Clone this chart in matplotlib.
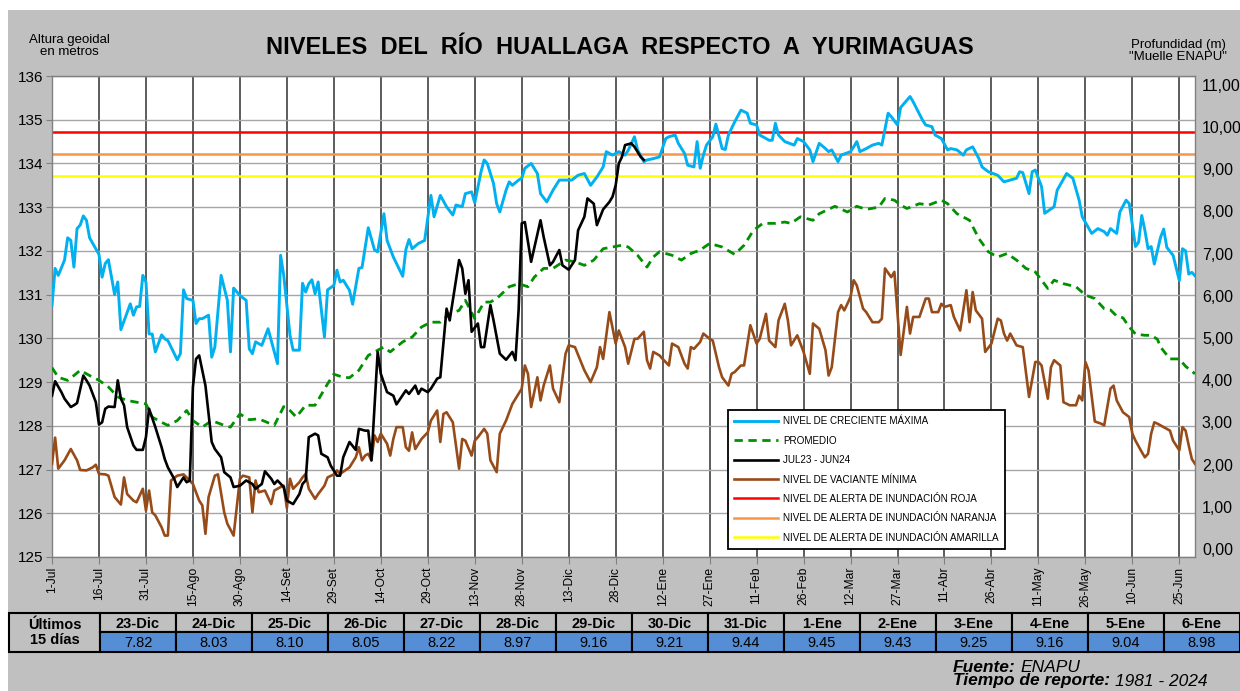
import matplotlib
matplotlib.use("Agg")
import matplotlib.pyplot as plt
from matplotlib.patches import Rectangle

plt.rcParams["font.family"] = ["Liberation Sans", "DejaVu Sans"]

# dia 0 = 1-Jul, 365 = 30-Jun (año bisiesto)
tick_labels = ["1-Jul", "16-Jul", "31-Jul", "15-Ago", "30-Ago", "14-Set", "29-Set",
               "14-Oct", "29-Oct", "13-Nov", "28-Nov", "13-Dic", "28-Dic", "12-Ene",
               "27-Ene", "11-Feb", "26-Feb", "12-Mar", "27-Mar", "11-Abr", "26-Abr",
               "11-May", "26-May", "10-Jun", "25-Jun"]

dias_max = [0, 1, 2, 4, 5, 6, 7, 8, 9, 10, 11, 12, 14, 15, 16, 17, 18, 20, 21, 22, 25, 26,
            27, 28, 29, 30, 31, 32, 33, 35, 36, 37, 40, 41, 42, 43, 45, 46, 47, 48, 50, 51,
            52, 54, 56, 57, 58, 60, 62, 63, 64, 65, 67, 69, 72, 73, 74, 76, 77, 79, 80, 81,
            82, 83, 84, 85, 87, 88, 90, 91, 92, 93, 95, 96, 98, 99, 101, 103, 104, 106,
            107, 109, 112, 113, 114, 115, 117, 119, 121, 122, 124, 126, 128, 129, 131, 132,
            134, 135, 137, 138, 139, 141, 142, 143, 145, 146, 147, 149, 150, 151, 153, 155,
            156, 158, 160, 162, 164, 166, 168, 170, 172, 174, 176, 177, 179, 181, 183, 184,
            186, 187, 189, 190, 192, 194, 196, 197, 199, 200, 202, 203, 205, 206, 207, 208,
            209, 211, 212, 214, 215, 216, 218, 220, 222, 223, 225, 226, 229, 230, 231, 232,
            234, 237, 238, 240, 242, 243, 245, 247, 248, 249, 251, 252, 255, 256, 257, 258,
            260, 262, 264, 265, 267, 268, 270, 271, 274, 275, 278, 279, 281, 282, 284, 286,
            287, 289, 291, 292, 294, 296, 297, 299, 302, 304, 306, 308, 309, 310, 312, 313,
            314, 316, 317, 320, 321, 324, 326, 328, 329, 332, 334, 336, 337, 338, 340, 341,
            343, 344, 346, 347, 348, 349, 350, 351, 352, 354, 355, 356, 358, 360, 361, 362,
            363, 364, 365]
nivel_max = [130.76, 131.6, 131.44, 131.79, 132.3, 132.24, 131.63, 132.51, 132.59, 132.8,
             132.7, 132.3, 132.05, 131.92, 131.4, 131.71, 131.8, 131.0, 131.29, 130.2,
             130.79, 130.53, 130.72, 130.73, 131.44, 131.29, 130.1, 130.1, 129.69, 130.08,
             129.99, 129.95, 129.51, 129.65, 131.11, 130.91, 130.87, 130.34, 130.45,
             130.45, 130.53, 129.57, 129.8, 131.44, 130.87, 129.69, 131.15, 130.98, 130.87,
             129.76, 129.65, 129.92, 129.84, 130.22, 129.42, 131.9, 131.44, 130.07, 129.73,
             129.73, 131.26, 131.06, 131.25, 131.34, 131.02, 131.29, 130.03, 131.11,
             131.21, 131.56, 131.29, 131.33, 131.1, 130.78, 131.6, 131.62, 132.53, 132.02,
             131.98, 132.85, 132.24, 131.86, 131.42, 132.03, 132.26, 132.05, 132.17,
             132.24, 133.27, 132.78, 133.27, 133.01, 132.82, 133.05, 133.01, 133.31,
             133.35, 133.1, 133.81, 134.08, 134.0, 133.54, 133.08, 132.89, 133.39, 133.58,
             133.5, 133.62, 133.66, 133.89, 134.0, 133.77, 133.31, 133.12, 133.39, 133.62,
             133.62, 133.62, 133.73, 133.77, 133.5, 133.69, 133.92, 134.27, 134.19, 134.27,
             134.19, 134.3, 134.61, 134.31, 134.04, 134.08, 134.11, 134.15, 134.57, 134.61,
             134.65, 134.46, 134.23, 133.96, 133.92, 134.5, 133.89, 134.19, 134.42, 134.61,
             134.9, 134.34, 134.32, 134.65, 134.95, 135.22, 135.15, 134.92, 134.88, 134.65,
             134.53, 134.53, 134.92, 134.65, 134.5, 134.42, 134.57, 134.5, 134.31, 134.04,
             134.46, 134.34, 134.27, 134.31, 134.04, 134.19, 134.27, 134.38, 134.5, 134.27,
             134.34, 134.42, 134.46, 134.42, 135.15, 135.07, 134.88, 135.28, 135.53,
             135.41, 134.99, 134.88, 134.84, 134.65, 134.57, 134.31, 134.34, 134.31,
             134.19, 134.31, 134.38, 134.11, 133.92, 133.81, 133.73, 133.58, 133.62,
             133.66, 133.81, 133.79, 133.31, 133.81, 133.85, 133.47, 132.86, 133.01,
             133.39, 133.77, 133.66, 133.16, 132.78, 132.4, 132.51, 132.44, 132.36, 132.51,
             132.4, 132.89, 133.16, 133.08, 132.1, 132.2, 132.81, 132.47, 132.05, 132.1,
             131.7, 132.31, 132.5, 132.08, 131.9, 131.32, 132.05, 132.0, 131.47, 131.51,
             131.43]

dias_prom = [0, 2, 5, 7, 9, 12, 15, 18, 21, 24, 27, 30, 32, 35, 37, 40, 43, 45, 48, 51, 55,
             57, 60, 63, 66, 71, 74, 76, 78, 81, 84, 88, 90, 93, 95, 98, 101, 104, 106, 108,
             112, 115, 118, 121, 124, 127, 130, 132, 135, 138, 140, 142, 146, 149, 152, 154,
             157, 160, 164, 167, 170, 173, 176, 179, 182, 184, 187, 190, 192, 194, 198, 201,
             204, 207, 210, 214, 218, 221, 224, 227, 231, 234, 236, 239, 243, 245, 250, 254,
             257, 260, 264, 266, 269, 271, 273, 277, 280, 284, 286, 289, 293, 296, 299, 302,
             305, 308, 311, 314, 316, 318, 320, 323, 327, 330, 333, 336, 338, 340, 342, 344,
             346, 349, 351, 353, 354, 357, 360, 362, 365]
nivel_prom = [129.33, 129.11, 129.04, 129.15, 129.27, 129.15, 129.04, 128.89, 128.66,
              128.58, 128.54, 128.5, 128.2, 128.08, 128.01, 128.12, 128.35, 128.12, 127.97,
              128.12, 128.01, 127.97, 128.27, 128.14, 128.16, 128.01, 128.44, 128.35, 128.2,
              128.47, 128.47, 128.96, 129.18, 129.11, 129.1, 129.27, 129.61, 129.73, 129.8,
              129.69, 129.92, 130.03, 130.26, 130.37, 130.37, 130.56, 130.64, 130.87, 130.45,
              130.83, 130.83, 130.91, 131.18, 131.25, 131.18, 131.4, 131.6, 131.6, 131.79,
              131.75, 131.67, 131.79, 132.05, 132.09, 132.13, 132.09, 131.9, 131.63, 131.86,
              131.98, 131.9, 131.79, 131.94, 132.02, 132.17, 132.09, 131.92, 132.13, 132.47,
              132.63, 132.63, 132.66, 132.63, 132.78, 132.7, 132.85, 133.02, 132.89, 133.02,
              132.95, 133.0, 133.2, 133.16, 133.05, 132.97, 133.08, 133.05, 133.16, 133.08,
              132.85, 132.7, 132.28, 131.98, 131.86, 131.94, 131.79, 131.6, 131.52, 131.33,
              131.14, 131.33, 131.25, 131.18, 130.99, 130.91, 130.68, 130.65, 130.51, 130.47,
              130.26, 130.1, 130.07, 130.07, 129.98, 129.8, 129.53, 129.53, 129.36, 129.19]

dias_2324 = [0, 1, 3, 4, 6, 7, 8, 10, 11, 12, 14, 15, 16, 17, 18, 20, 21, 22, 23, 24, 26, 27,
             29, 30, 31, 33, 35, 36, 37, 39, 40, 42, 43, 44, 45, 46, 47, 49, 51, 52, 54, 55,
             57, 58, 60, 62, 64, 65, 67, 68, 70, 71, 72, 74, 75, 77, 79, 80, 81, 82, 84, 85,
             86, 88, 89, 91, 92, 93, 95, 97, 98, 100, 101, 102, 104, 105, 107, 109, 110, 113,
             114, 116, 117, 118, 120, 121, 123, 124, 126, 127, 128, 130, 131, 132, 133, 134,
             136, 137, 138, 140, 141, 143, 145, 147, 148, 149, 150, 151, 153, 156, 157, 159,
             160, 162, 163, 165, 167, 168, 170, 171, 173, 174, 176, 178, 179, 180, 181, 182,
             183, 185, 186, 188, 189]
nivel_2324 = [128.69, 129.02, 128.77, 128.62, 128.43, 128.47, 128.52, 129.15, 129.04,
              128.92, 128.54, 128.03, 128.08, 128.39, 128.44, 128.43, 129.04, 128.62, 128.47,
              127.97, 127.55, 127.45, 127.45, 127.74, 128.39, 127.97, 127.51, 127.24, 127.05,
              126.79, 126.6, 126.82, 126.71, 126.75, 128.89, 129.53, 129.61, 128.92, 127.63,
              127.47, 127.28, 126.94, 126.82, 126.6, 126.63, 126.75, 126.67, 126.56, 126.67,
              126.96, 126.79, 126.67, 126.75, 126.6, 126.29, 126.21, 126.44, 126.67, 126.75,
              127.74, 127.82, 127.78, 127.36, 127.28, 127.09, 126.86, 126.86, 127.28, 127.63,
              127.45, 127.93, 127.89, 127.89, 127.21, 129.69, 129.19, 128.77, 128.69, 128.49,
              128.81, 128.73, 128.92, 128.73, 128.85, 128.77, 128.85, 129.08, 129.11, 130.68,
              130.41, 130.87, 131.79, 131.6, 131.02, 131.33, 130.15, 130.34, 129.8, 129.8,
              130.76, 130.41, 129.65, 129.51, 129.69, 129.5, 130.64, 132.63, 132.66, 131.75,
              132.7, 132.32, 131.67, 131.75, 132.02, 131.67, 131.57, 131.79, 132.47, 132.78,
              133.2, 133.08, 132.59, 132.95, 133.12, 133.24, 133.5, 134.0, 134.15, 134.42,
              134.46, 134.38, 134.15, 134.08]

dias_min = [0, 1, 2, 4, 6, 8, 9, 11, 13, 14, 15, 17, 18, 20, 22, 23, 24, 26, 27, 29, 30, 31,
            32, 33, 35, 36, 37, 38, 40, 42, 43, 45, 47, 48, 49, 50, 52, 53, 55, 56, 58, 60,
            61, 63, 64, 65, 66, 68, 70, 71, 73, 74, 75, 76, 77, 79, 80, 81, 82, 84, 85, 87,
            88, 90, 91, 92, 95, 97, 98, 99, 100, 101, 102, 103, 104, 105, 107, 108, 109, 110,
            112, 113, 114, 115, 116, 118, 120, 121, 123, 124, 125, 126, 128, 130, 131, 132,
            134, 135, 136, 138, 139, 140, 142, 143, 145, 147, 150, 151, 152, 153, 155, 156,
            157, 159, 160, 162, 164, 165, 167, 170, 172, 174, 175, 176, 178, 180, 181, 183,
            184, 186, 187, 189, 190, 191, 192, 194, 195, 197, 198, 200, 202, 203, 204, 205,
            207, 208, 210, 211, 213, 214, 216, 217, 218, 220, 221, 223, 225, 226, 228, 229,
            231, 232, 234, 235, 236, 238, 239, 240, 242, 243, 245, 247, 248, 249, 251, 252,
            253, 254, 255, 256, 257, 259, 260, 262, 264, 265, 266, 268, 269, 271, 273, 274,
            275, 277, 279, 280, 281, 283, 284, 285, 287, 288, 290, 292, 293, 294, 295, 297,
            298, 300, 302, 303, 304, 305, 306, 308, 310, 311, 312, 314, 315, 316, 318, 319,
            320, 322, 323, 325, 327, 328, 329, 330, 331, 333, 335, 336, 338, 339, 340, 342,
            344, 345, 346, 348, 349, 350, 351, 352, 353, 355, 357, 358, 360, 361, 362, 363,
            364, 365]
nivel_min = [127.13, 127.73, 127.02, 127.21, 127.47, 127.21, 126.99, 126.98, 127.05, 127.11,
             126.9, 126.89, 126.86, 126.37, 126.2, 126.82, 126.44, 126.29, 126.25, 126.56,
             126.06, 126.52, 126.02, 125.95, 125.68, 125.49, 125.49, 126.75, 126.86, 126.89,
             126.82, 126.67, 126.29, 126.18, 125.53, 126.37, 126.86, 126.89, 126.02, 125.76,
             125.49, 126.79, 126.86, 126.82, 126.02, 126.75, 126.48, 126.52, 126.21, 126.52,
             126.6, 126.63, 126.12, 126.79, 126.56, 126.71, 126.82, 126.9, 126.56, 126.33,
             126.44, 126.63, 126.82, 126.89, 126.98, 126.9, 127.05, 127.28, 127.51, 127.21,
             127.32, 127.36, 127.21, 127.78, 127.63, 127.82, 127.59, 127.32, 127.7, 127.97,
             127.97, 127.51, 127.43, 127.85, 127.47, 127.7, 127.85, 128.12, 128.35, 127.63,
             128.27, 128.31, 128.08, 127.02, 127.7, 127.66, 127.32, 127.66, 127.74, 127.93,
             127.82, 127.21, 126.94, 127.82, 128.12, 128.5, 128.85, 129.38, 129.19, 128.43,
             129.11, 128.58, 128.92, 129.38, 128.85, 128.54, 129.65, 129.84, 129.8, 129.27,
             129.0, 129.34, 129.8, 129.53, 130.6, 129.88, 130.18, 129.8, 129.42, 129.99,
             129.99, 130.15, 129.5, 129.31, 129.69, 129.61, 129.53, 129.38, 129.88, 129.8,
             129.42, 129.31, 129.8, 129.76, 129.92, 130.11, 129.99, 129.95, 129.34, 129.11,
             128.92, 129.19, 129.23, 129.38, 129.38, 130.3, 129.88, 129.99, 130.56, 129.95,
             129.8, 130.41, 130.79, 130.41, 129.84, 130.07, 129.88, 129.69, 129.19, 130.34,
             130.22, 129.73, 129.15, 129.34, 130.6, 130.76, 130.64, 130.79, 130.95, 131.33,
             131.21, 130.68, 130.6, 130.37, 130.37, 130.45, 131.6, 131.4, 131.52, 129.62,
             130.72, 130.11, 130.49, 130.49, 130.91, 130.91, 130.6, 130.6, 130.79, 130.72,
             130.76, 130.49, 130.18, 131.1, 130.37, 131.06, 130.64, 130.45, 129.69, 129.88,
             130.45, 130.41, 130.11, 129.95, 130.11, 129.84, 129.8, 129.23, 128.66, 129.46,
             129.46, 129.38, 128.62, 129.34, 129.5, 129.38, 128.54, 128.47, 128.47, 128.69,
             128.58, 129.46, 129.27, 128.1, 128.05, 128.01, 128.85, 128.92, 128.58, 128.31,
             128.2, 127.82, 127.66, 127.4, 127.28, 127.36, 127.82, 128.08, 128.05, 127.97,
             127.89, 127.66, 127.44, 127.97, 127.89, 127.55, 127.24, 127.13]

alerta_roja = 134.72
alerta_naranja = 134.21
alerta_amarilla = 133.72

fechas_15 = ["23-Dic", "24-Dic", "25-Dic", "26-Dic", "27-Dic", "28-Dic", "29-Dic", "30-Dic",
             "31-Dic", "1-Ene", "2-Ene", "3-Ene", "4-Ene", "5-Ene", "6-Ene"]
prof_15 = [7.82, 8.03, 8.10, 8.05, 8.22, 8.97, 9.16, 9.21, 9.44, 9.45, 9.43, 9.25, 9.16,
           9.04, 8.98]

W, H = 1240, 691
fig = plt.figure(figsize=(W / 100, H / 100), dpi=100)
fig.patch.set_facecolor("white")

# fondo en coordenadas de pixel
bg = fig.add_axes([0, 0, 1, 1], zorder=-1)
bg.set_xlim(0, W)
bg.set_ylim(H, 0)
bg.axis("off")
gris = "#C0C0C0"
bg.add_patch(Rectangle((8, 10), W - 8, H - 10, facecolor=gris, edgecolor="none"))

ax = fig.add_axes([52 / W, 1 - 557 / H, (1195 - 52) / W, (557 - 76) / H])
ax.set_facecolor("white")
ax.set_xlim(0, 365)
ax.set_ylim(125, 136)
ax.set_yticks(range(125, 137))
ax.set_xticks(range(0, 361, 15))
ax.set_xticklabels(tick_labels, rotation=90, fontsize=8.7)
ax.tick_params(axis="y", labelsize=11, length=4, color="#808080", pad=2)
ax.tick_params(axis="x", length=5, color="#808080", pad=2)
ax.grid(axis="y", color="#A6A6A6", linewidth=1.0)
ax.grid(axis="x", color="#303030", linewidth=1.1)
ax.set_axisbelow(True)
for s in ax.spines.values():
    s.set_color("#808080")
    s.set_linewidth(1.0)

ax.axhline(alerta_roja, color="#FF0000", lw=1.8, label="NIVEL DE ALERTA DE INUNDACIÓN ROJA", zorder=2)
ax.axhline(alerta_naranja, color="#F79646", lw=1.8, label="NIVEL DE ALERTA DE INUNDACIÓN NARANJA", zorder=2)
ax.axhline(alerta_amarilla, color="#FFFF00", lw=1.8, label="NIVEL DE ALERTA DE INUNDACIÓN AMARILLA", zorder=2)

ax.plot(dias_max, nivel_max, color="#00B0F0", lw=2.1, label="NIVEL DE CRECIENTE MÁXIMA", zorder=3)
ax.plot(dias_prom, nivel_prom, color="#009000", lw=2.0, ls=(0, (3, 2)), label="PROMEDIO", zorder=3)
ax.plot(dias_2324, nivel_2324, color="black", lw=1.9, label="JUL23 - JUN24", zorder=4)
ax.plot(dias_min, nivel_min, color="#974B18", lw=1.9, label="NIVEL DE VACIANTE MÍNIMA", zorder=3)

handles, labels = ax.get_legend_handles_labels()
orden = [3, 4, 5, 6, 0, 1, 2]
leg = ax.legend([handles[i] for i in orden], [labels[i] for i in orden],
                loc="upper left", bbox_to_anchor=(728 / W, 1 - 410 / H),
                bbox_transform=fig.transFigure, fontsize=7.1, frameon=True,
                fancybox=False, edgecolor="black", framealpha=1, labelspacing=0.95,
                handlelength=4.4, handletextpad=0.55, borderpad=0.65, borderaxespad=0)
leg.get_frame().set_linewidth(1.3)

ax2 = ax.twinx()
ax2.set_ylim(-0.19, 11.21)
ax2.set_yticks(range(0, 12))
ax2.set_yticklabels([f"{v:.2f}".replace(".", ",") for v in range(0, 12)])
ax2.tick_params(axis="y", length=0, labelsize=11.5, pad=5)
for s in ax2.spines.values():
    s.set_visible(False)

fig.text(620 / W, 1 - 48 / H, "NIVELES  DEL  RÍO  HUALLAGA  RESPECTO  A  YURIMAGUAS",
         ha="center", va="center", fontsize=17, fontweight="bold")
fig.text(69 / W, 1 - 46 / H, "Altura geoidal\nen metros", ha="center", va="center",
         fontsize=9.5, linespacing=0.9)
fig.text(1178 / W, 1 - 51 / H, "Profundidad (m)\n\"Muelle ENAPU\"", ha="center",
         va="center", fontsize=9.5, linespacing=0.9)

# tabla de los últimos 15 días
y0, y1, y2 = 613, 632, 652
x0, x1, cw = 9, 100, 76
bg.add_patch(Rectangle((x0, y0), x1 - x0, y2 - y0, facecolor=gris, edgecolor="black", lw=1.5))
bg.text((x0 + x1) / 2, (y0 + y2) / 2, "Últimos\n15 días", ha="center", va="center",
        fontsize=10.5, fontweight="bold", linespacing=1.1)
for i, (f, p) in enumerate(zip(fechas_15, prof_15)):
    xa = x1 + i * cw
    bg.add_patch(Rectangle((xa, y0), cw, y1 - y0, facecolor=gris, edgecolor="black", lw=1.5))
    bg.add_patch(Rectangle((xa, y1), cw, y2 - y1, facecolor="#558ED5", edgecolor="black", lw=1.5))
    bg.text(xa + cw / 2, (y0 + y1) / 2 + 1, f, ha="center", va="center", fontsize=10.5,
            fontweight="bold")
    bg.text(xa + cw / 2, (y1 + y2) / 2 + 1, f"{p:.2f}", ha="center", va="center", fontsize=10.5)

# fuente: parte en negrita y parte normal, una tras otra
renderer = fig.canvas.get_renderer()


def texto_doble(x, y, negrita, normal):
    t = bg.text(x, y, negrita, ha="left", va="center", fontsize=12.5, fontweight="bold",
                style="italic")
    ext = t.get_window_extent(renderer=renderer)
    bg.text(ext.x1 + 5, y, normal, ha="left", va="center", fontsize=12.5, style="italic")


texto_doble(953, 667, "Fuente:", "ENAPU")
texto_doble(953, 681, "Tiempo de reporte:", "1981 - 2024")

fig.savefig("out.png", dpi=100)
